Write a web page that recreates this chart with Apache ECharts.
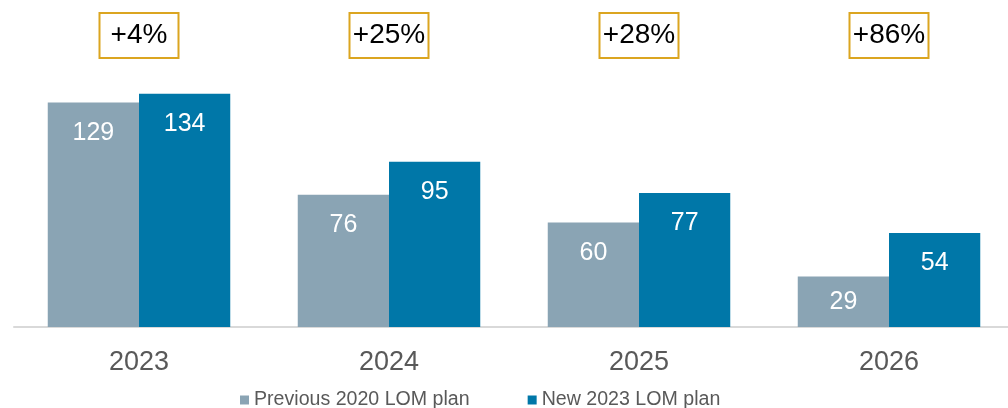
<!DOCTYPE html>
<html>
<head>
<meta charset="utf-8">
<script src="https://cdn.jsdelivr.net/npm/echarts@6/dist/echarts.min.js"></script>
<style>html,body{margin:0;padding:0;background:#fff}#c{width:1008px;height:408px}</style>
</head>
<body>
<div id="c"></div>
<script>
const categories = ['2023', '2024', '2025', '2026'];
const growthLabels = ['+4%', '+25%', '+28%', '+86%'];
const seriesNames = ['Previous 2020 LOM plan', 'New 2023 LOM plan'];
const previousPlan = [129, 76, 60, 29];
const newPlan = [134, 95, 77, 54];

const FONT = '"Liberation Sans", Arial, sans-serif';
const chart = echarts.init(document.getElementById('c'));

function labelled(values) {
  return values.map(v => v < 40
    ? { value: v, label: { position: 'inside' } }
    : v);
}

chart.setOption({
  animation: false,
  textStyle: { fontFamily: FONT },
  grid: { left: 14, width: 1000, top: 66, bottom: 81, outerBoundsMode: 'none', containLabel: false },
  legend: {
    left: 235, top: 385,
    itemWidth: 9, itemHeight: 9, itemGap: 58,
    icon: 'rect',
    textStyle: { fontSize: 19.6, color: '#595959', fontFamily: FONT },
    data: seriesNames
  },
  xAxis: [{
    type: 'category',
    data: categories,
    axisLine: { lineStyle: { color: '#d9d9d9', width: 2 } },
    axisTick: { show: false },
    axisLabel: { fontSize: 27, color: '#595959', margin: 22, fontFamily: FONT }
  }, {
    type: 'category',
    position: 'top',
    data: growthLabels,
    axisLine: { show: false },
    axisTick: { show: false },
    axisLabel: {
      fontSize: 28, color: '#000', fontFamily: FONT,
      margin: 8,
      width: 79, height: 45, lineHeight: 45, align: 'center',
      borderColor: '#dba520', borderWidth: 2
    }
  }],
  yAxis: {
    type: 'value', min: 0, max: 150,
    show: false, splitLine: { show: false }
  },
  series: [{
    name: seriesNames[0], type: 'bar',
    data: labelled(previousPlan),
    barGap: '0%', barCategoryGap: '27%',
    itemStyle: { color: '#8aa4b4' },
    label: { show: true, position: 'insideTop', distance: 18, color: '#fff', fontSize: 25, fontFamily: FONT }
  }, {
    name: seriesNames[1], type: 'bar',
    data: labelled(newPlan),
    itemStyle: { color: '#0077a8' },
    label: { show: true, position: 'insideTop', distance: 18, color: '#fff', fontSize: 25, fontFamily: FONT }
  }]
});
</script>
</body>
</html>
